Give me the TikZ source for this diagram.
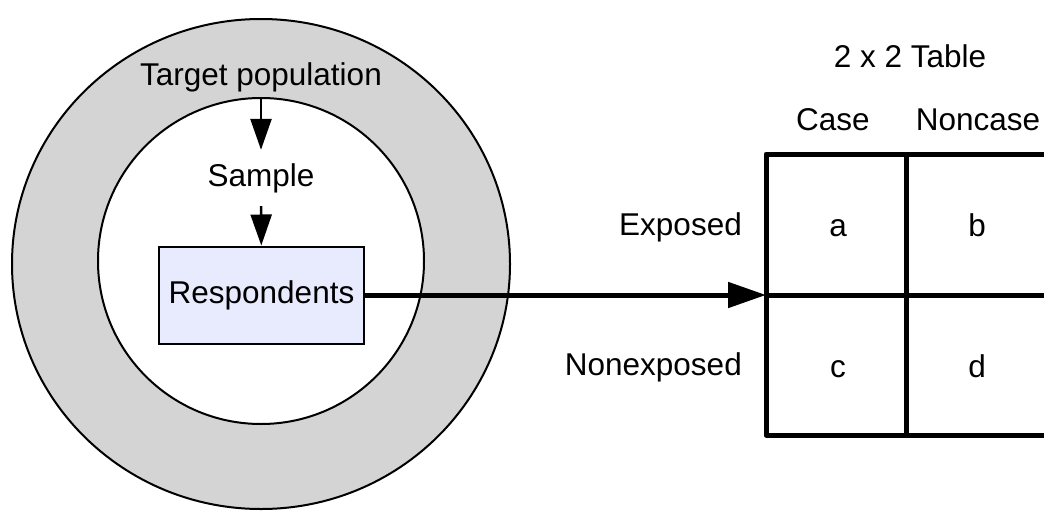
\documentclass[tikz,border=0pt]{standalone}
\usepackage{fontspec}
\setmainfont{Liberation Sans}
\usetikzlibrary{positioning, shapes.geometric, arrows.meta}
\definecolor{ringgray}{RGB}{212,212,212}
\definecolor{respblue}{RGB}{232,234,254}
\tikzstyle{txt} = [inner sep=0pt, text height=22pt, text depth=6pt]
\tikzstyle{inner} = [circle, minimum size=326pt, inner sep=0pt, draw=black, line width=2pt, fill=white]
\tikzstyle{resp} = [rectangle, minimum width=205pt, minimum height=97pt, text centered, draw=black, line width=2pt, fill=respblue]
\tikzstyle{arrow} = [line width=2.5pt, -{Triangle[length=31pt, width=21pt]}]
\tikzstyle{bigarrow} = [line width=5pt, -{Triangle[length=38pt, width=25pt]}]
\tikzstyle{tblline} = [line width=5pt, line join=round]

\begin{document}
\begin{tikzpicture}[x=1pt, y=-1pt, font=\fontsize{31.5}{37}\selectfont]
\useasboundingbox (0,0) rectangle (1044,514);

\draw [line width=2pt, fill=ringgray] (261,264) ellipse [x radius=249, y radius=245];
\node (pop) [inner] at (261,261) {};

\node (target) [txt] at (261,77) {Target population};
\node (sample) [txt, inner ysep=14pt] at (261,178) {Sample};
\node (resp) [resp] at (261.5,295) {Respondents};
\draw [arrow] (pop.north) -- (sample);
\draw [arrow] (sample) -- (resp);

\coordinate (tblleft) at (766,295);
\draw [bigarrow] (resp.east) -- (tblleft);

\draw [tblline] (1044,154) -- (766,154) -- (766,435) -- (1044,435);
\draw [tblline] (766,295) -- (1044,295);
\draw [tblline] (906,154) -- (906,435);

\node (title) [txt] at (910,59) {2 x 2 Table};
\node (case) [txt] at (833,122) {Case};
\node (noncase) [txt] at (978,122) {Noncase};
\node (exp) [txt, anchor=east] at (742,227) {Exposed};
\node (nonexp) [txt, anchor=east] at (742,367) {Nonexposed};

\node (a) [txt] at (838,228) {a};
\node (b) [txt] at (977,228) {b};
\node (c) [txt] at (838,369) {c};
\node (d) [txt] at (977,369) {d};

\end{tikzpicture}
\end{document}
